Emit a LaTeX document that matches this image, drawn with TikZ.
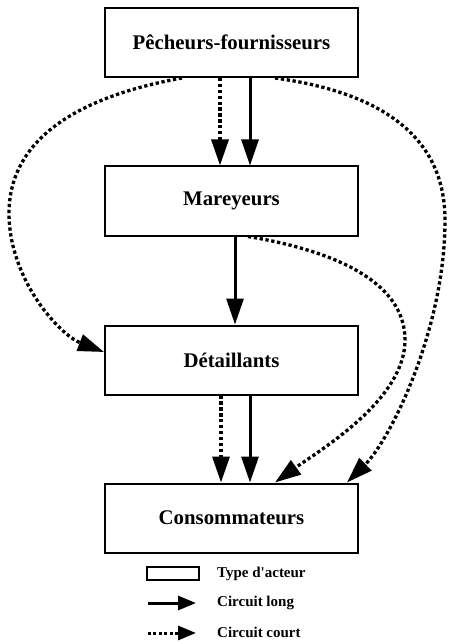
\documentclass[tikz,border=0pt]{standalone}
\usepackage{fontspec}
\setmainfont{Liberation Serif}[Ligatures=TeXOff]
\usetikzlibrary{arrows.meta}
\begin{document}
\begin{tikzpicture}[x=1pt,y=-1pt,
  actor/.style={draw,line width=2pt,minimum width=253pt,minimum height=69pt,inner sep=0pt,font=\bfseries\fontsize{20.8}{23}\selectfont},
  longc/.style={line width=3pt,-{Triangle[length=26pt,width=17pt]}},
  courtc/.style={line width=3.3pt,dash pattern=on 3.3pt off 2.6pt,-{Triangle[length=26pt,width=17pt]}},
  legtext/.style={anchor=west,inner sep=0pt,font=\bfseries\fontsize{15}{17}\selectfont}]
\useasboundingbox (0,0) rectangle (448,644);
\node[actor] (pf) at (231.5,42.5) {Pêcheurs-fournisseurs};
\node[actor] (mar) at (231.5,201) {Mareyeurs};
\node[actor] (det) at (231.5,360) {Détaillants};
\node[actor] (con) at (231.5,518) {Consommateurs};
% straight arrows
\draw[courtc] ([xshift=-11.5pt]pf.south) -- ([xshift=-11.5pt]mar.north);
\draw[longc] ([xshift=18.5pt]pf.south) -- ([xshift=18.5pt]mar.north);
\draw[longc] ([xshift=3.5pt]mar.south) -- ([xshift=3.5pt]det.north);
\draw[courtc] ([xshift=-10.5pt]det.south) -- ([xshift=-10.5pt]con.north);
\draw[longc] ([xshift=18.5pt]det.south) -- ([xshift=18.5pt]con.north);
% curved arrows
\coordinate (pfl) at ([xshift=-49.5pt]pf.south);
\coordinate (pfr) at ([xshift=43.5pt]pf.south);
\coordinate (marr) at ([xshift=16.5pt]mar.south);
\coordinate (detw) at ([yshift=8pt]det.west);
\coordinate (conm) at ([xshift=43.5pt]con.north);
\coordinate (conr) at ([xshift=115.5pt]con.north);
\draw[courtc] (pfl) .. controls (60,100) and (9,150) .. (9,213) .. controls (9,280) and (60,335) .. (detw);
\draw[courtc] (pfr) .. controls (400,95) and (445,150) .. (445,220) .. controls (445,330) and (390,440) .. (conr);
\draw[courtc] (marr) .. controls (330,250) and (405,280) .. (405,340) .. controls (405,400) and (320,450) .. (conm);
% legend
\node[draw,line width=1.8pt,minimum width=52pt,minimum height=13pt,inner sep=0pt] (legbox) at (173,573.5) {};
\node[legtext] (lt1) at (217,574) {Type d'acteur};
\coordinate (la1) at (148,603);
\coordinate (lb1) at (196,603);
\draw[line width=3pt,-{Triangle[length=18pt,width=14pt]}] (la1) -- (lb1);
\node[legtext] (lt2) at (217,603) {Circuit long};
\coordinate (la2) at (148,633);
\coordinate (lb2) at (196,633);
\draw[line width=3pt,dash pattern=on 3pt off 2.4pt,-{Triangle[length=18pt,width=14pt]}] (la2) -- (lb2);
\node[legtext] (lt3) at (217,632) {Circuit court};
\end{tikzpicture}
\end{document}
